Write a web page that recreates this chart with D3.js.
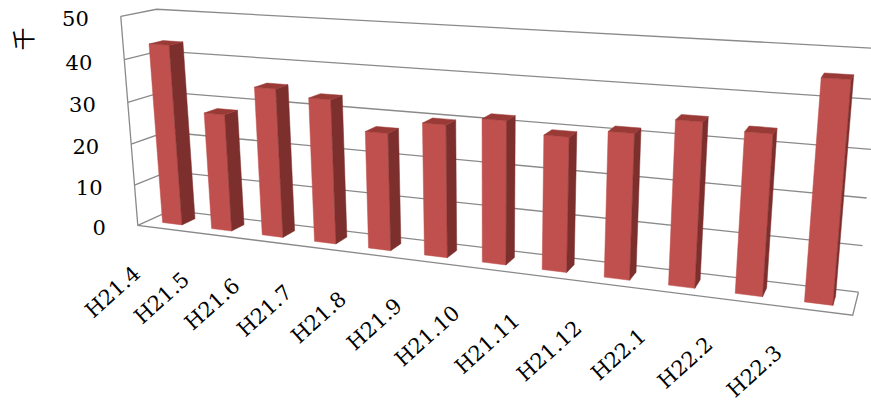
<!DOCTYPE html>
<html>
<head>
<meta charset="utf-8">
<script src="https://cdn.jsdelivr.net/npm/d3@7/dist/d3.min.js"></script>
<style>
  body { margin: 0; background: #fff; }
  svg { display: block; }
  .lbl { font-family: "DejaVu Serif", serif; font-size: 21px; fill: #000; }
  .unit { font-family: "Noto Sans CJK JP", sans-serif; font-size: 23px; fill: #000; }
  .grid { fill: none; stroke: #8a8a8a; stroke-width: 1.3; }
</style>
</head>
<body>
<svg width="871" height="403"></svg>
<script>
var categories = ["H21.4", "H21.5", "H21.6", "H21.7", "H21.8", "H21.9",
                  "H21.10", "H21.11", "H21.12", "H22.1", "H22.2", "H22.3"];
var values = [43.3, 28, 35, 33.5, 27, 30, 32, 29.6, 31.5, 35, 33.7, 45.3];
var yTicks = [0, 10, 20, 30, 40, 50];
var unitLabel = "千";

// frame corners of the 3d box (x along categories, y value, z depth; all 0..1)
// and where they show up on screen, used to fit the perspective camera
var frame = [
  [[0, 1, 0], [119.3, 16.7]], [[0, 0.8, 0], [125, 60]], [[0, 0.6, 0], [128.3, 102.7]],
  [[0, 0.4, 0], [131.7, 143.3]], [[0, 0.2, 0], [135, 185]], [[0, 0, 0], [136.7, 225.5]],
  [[0, 1, 1], [156.7, 9.3]], [[0, 0, 1], [171, 212]],
  [[1, 1, 1], [880, 48.8]], [[1, 0.8, 1], [875, 98.6]], [[1, 0.2, 1], [862.5, 245]],
  [[1, 0, 1], [858.3, 291.7]], [[1, 0, 0], [852.3, 317.3]],
  [[0.3 / 12, 0, 0.3], [164.3, 221.7]], [[0.7 / 12, 0, 0.3], [180, 223.3]],
  [[0.7 / 12, 0, 0.7], [195, 219.3]], [[3.3 / 12, 0, 0.3], [315, 240]],
  [[6.3 / 12, 0, 0.3], [483.3, 263.3]], [[8.3 / 12, 0, 0.3], [604, 277.3]],
  [[11.3 / 12, 0, 0.3], [804, 301.7]], [[11.7 / 12, 0, 0.3], [833.3, 305]]
];

// least squares DLT -> 3x4 projection
function fitCamera(pts) {
  var n = 11, M = [], r = [];
  for (var i = 0; i < n; i++) { M.push(new Array(n).fill(0)); r.push(0); }
  pts.forEach(function(p) {
    var X = p[0][0], Y = p[0][1], Z = p[0][2];
    var u = (p[1][0] - 435) / 400, v = (p[1][1] - 200) / 400;
    var rows = [[X, Y, Z, 1, 0, 0, 0, 0, -u * X, -u * Y, -u * Z, u],
                [0, 0, 0, 0, X, Y, Z, 1, -v * X, -v * Y, -v * Z, v]];
    rows.forEach(function(a) {
      for (var i = 0; i < n; i++) {
        for (var j = 0; j < n; j++) M[i][j] += a[i] * a[j];
        r[i] += a[i] * a[11];
      }
    });
  });
  for (var c = 0; c < n; c++) {
    var piv = c;
    for (var k = c + 1; k < n; k++) if (Math.abs(M[k][c]) > Math.abs(M[piv][c])) piv = k;
    var t = M[c]; M[c] = M[piv]; M[piv] = t;
    var tr = r[c]; r[c] = r[piv]; r[piv] = tr;
    for (var k = c + 1; k < n; k++) {
      var f = M[k][c] / M[c][c];
      for (var j = c; j < n; j++) M[k][j] -= f * M[c][j];
      r[k] -= f * r[c];
    }
  }
  var p = new Array(n).fill(0);
  for (var c = n - 1; c >= 0; c--) {
    var s = r[c];
    for (var j = c + 1; j < n; j++) s -= M[c][j] * p[j];
    p[c] = s / M[c][c];
  }
  return p;
}

var cam = fitCamera(frame);
function P(x, y, z) {
  var w = cam[8] * x + cam[9] * y + cam[10] * z + 1;
  return [(cam[0] * x + cam[1] * y + cam[2] * z + cam[3]) / w * 400 + 435,
          (cam[4] * x + cam[5] * y + cam[6] * z + cam[7]) / w * 400 + 200];
}

var svg = d3.select("svg");

var x = d3.scaleBand().domain(categories).range([0, 1]).paddingInner(0.6).paddingOuter(0.3);
var y = d3.scaleLinear().domain([0, 50]).range([0, 1]);
var z0 = 0.3, z1 = 0.7;

var line = d3.line();
var poly = function(pts) { return line(pts) + "Z"; };

// walls
var g = svg.append("g");
yTicks.forEach(function(t) {
  g.append("path").attr("class", "grid").attr("d", line([P(0, y(t), 0), P(0, y(t), 1), P(1, y(t), 1)]));
});
g.append("path").attr("class", "grid").attr("d", line([P(0, 1, 0), P(0, 0, 0), P(1, 0, 0), P(1, 0, 1)]));

// bars
var bars = svg.append("g").selectAll("g").data(categories).enter().append("g");
bars.each(function(c, i) {
  var b = d3.select(this);
  var xa = x(c), xb = x(c) + x.bandwidth(), v = y(values[i]);
  b.append("path").attr("fill", "#c0504d").attr("stroke", "#c0504d").attr("stroke-width", 0.5)
    .attr("d", poly([P(xa, 0, z0), P(xb, 0, z0), P(xb, v, z0), P(xa, v, z0)]));
  b.append("path").attr("fill", "#7c2f2d").attr("stroke", "#7c2f2d").attr("stroke-width", 0.5)
    .attr("d", poly([P(xb, 0, z0), P(xb, 0, z1), P(xb, v, z1), P(xb, v, z0)]));
  b.append("path").attr("fill", "#9a3a37").attr("stroke", "#9a3a37").attr("stroke-width", 0.5)
    .attr("d", poly([P(xa, v, z0), P(xb, v, z0), P(xb, v, z1), P(xa, v, z1)]));
});

// value axis labels
yTicks.forEach(function(t) {
  var p = P(0, y(t), 0);
  svg.append("text").attr("class", "lbl")
    .attr("x", p[0] - 32).attr("y", p[1] + 3)
    .attr("text-anchor", "end").attr("dominant-baseline", "central")
    .text(t);
});

// category labels
categories.forEach(function(c) {
  var p = P(x(c), 0, z0);
  svg.append("text").attr("class", "lbl")
    .attr("transform", "translate(" + (p[0] - 21) + "," + (p[1] + 53) + ") rotate(-42)")
    .attr("text-anchor", "end")
    .text(c);
});

// unit
svg.append("text").attr("class", "unit")
  .attr("transform", "translate(22,39) rotate(-90)")
  .attr("text-anchor", "middle").attr("dominant-baseline", "central")
  .text(unitLabel);
</script>
</body>
</html>
